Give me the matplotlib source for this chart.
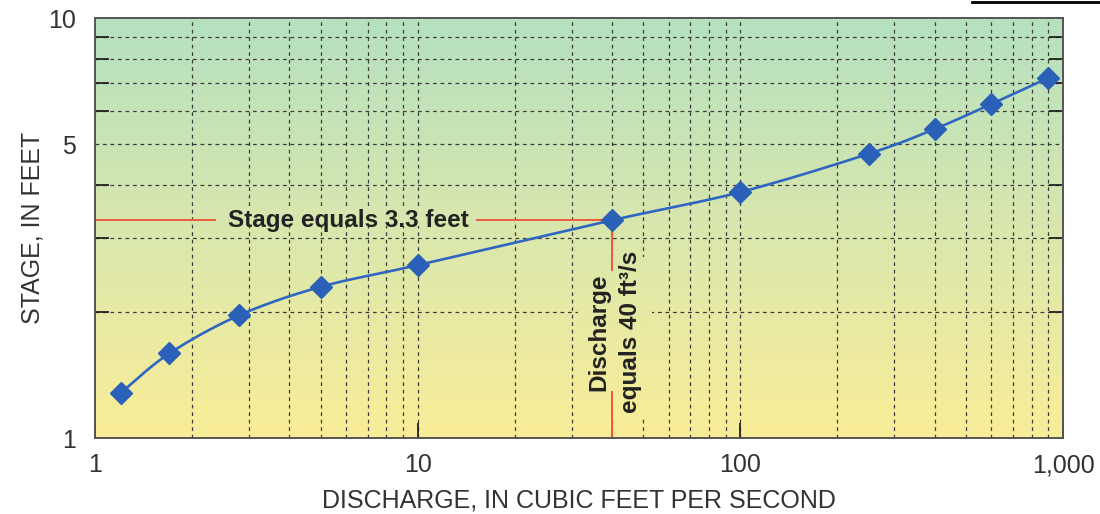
import numpy as np
import matplotlib
matplotlib.use("Agg")
import matplotlib.pyplot as plt
from matplotlib.colors import LinearSegmentedColormap
from matplotlib.ticker import FixedLocator, FixedFormatter, NullFormatter
from matplotlib.lines import Line2D

plt.rcParams['font.family'] = ['Liberation Sans', 'DejaVu Sans']

# Stage-discharge rating data
discharge = [1.2, 1.7, 2.8, 5.0, 10.0, 40.0, 100.0, 250.0, 400.0, 600.0, 900.0]
stage = [1.28, 1.59, 1.96, 2.29, 2.58, 3.3, 3.85, 4.75, 5.44, 6.24, 7.2]

x_ticks = [1, 10, 100, 1000]
x_tick_labels = ['1', '10', '100', '1,000']
y_ticks = [1, 5, 10]
y_tick_labels = ['1', '5', '10']

read_q = 40.0
read_stage = 3.3

fig = plt.figure(figsize=(11, 5.14), dpi=100)
ax = fig.add_axes([95 / 1100, 1 - 438 / 514, 968 / 1100, 420 / 514])
ax.set_xscale('log')
ax.set_yscale('log')
ax.set_xlim(1, 1000)
ax.set_ylim(1, 10)

# Background gradient: green at the top fading to yellow at the bottom
bg = LinearSegmentedColormap.from_list(
    'bg', [(0.0, '#faed98'), (0.5, '#d9e7ad'), (1.0, '#b5e1c0')])


def gradient_patch(x0, x1, y0, y1, z):
    """Fill an axes-fraction box with the matching slice of the background."""
    g = np.linspace(y0, y1, 128).reshape(-1, 1)
    ax.imshow(g, cmap=bg, vmin=0, vmax=1, aspect='auto', origin='lower',
              extent=[x0, x1, y0, y1], transform=ax.transAxes, zorder=z,
              interpolation='bilinear')


gradient_patch(0, 1, 0, 1, 0)

# Grid on every decade subdivision
minor_x = [m * d for d in (1, 10, 100) for m in range(2, 10)]
minor_y = list(range(2, 10))
grid_kw = dict(color='#3c3c3c', lw=0.9, ls=(0, (3, 3)), zorder=1)
for v in minor_x + [10, 100]:
    ax.axvline(v, **grid_kw)
for v in minor_y:
    ax.axhline(v, **grid_kw)

# Smooth rating curve (Catmull-Rom in log-log space)
lx = np.log10(discharge)
ly = np.log10(stage)
px = np.concatenate([[2 * lx[0] - lx[1]], lx, [2 * lx[-1] - lx[-2]]])
py = np.concatenate([[2 * ly[0] - ly[1]], ly, [2 * ly[-1] - ly[-2]]])
cx, cy = [], []
t = np.linspace(0, 1, 30)
for i in range(1, len(px) - 2):
    for arr, out in ((px, cx), (py, cy)):
        p0, p1, p2, p3 = arr[i - 1], arr[i], arr[i + 1], arr[i + 2]
        seg = 0.5 * ((2 * p1) + (-p0 + p2) * t
                     + (2 * p0 - 5 * p1 + 4 * p2 - p3) * t ** 2
                     + (-p0 + 3 * p1 - 3 * p2 + p3) * t ** 3)
        out.extend(seg)
ax.plot(10 ** np.array(cx), 10 ** np.array(cy), color='#2f66c2', lw=1.9, zorder=4)
ax.plot(discharge, stage, ls='none', marker='D', ms=11, color='#2a60b8',
        mec='#2a60b8', zorder=5)

# Reading the curve: red guide lines
red = '#ec5a3c'
ax.plot([1, 2.35], [read_stage, read_stage], color=red, lw=1.4, zorder=3)
ax.plot([15.3, read_q], [read_stage, read_stage], color=red, lw=1.4, zorder=3)
ax.plot([read_q, read_q], [read_stage, 2.51], color=red, lw=1.4, zorder=3)
ax.plot([read_q, read_q], [1.287, 1], color=red, lw=1.4, zorder=3)

# Background-coloured blocks behind the annotation text
gradient_patch(222 / 968 - 0.1, 472 / 968 - 0.1, 0.505, 0.545, 2)
gradient_patch(483 / 968, 557 / 968, 0.05, 0.43, 2)

ax.text(6.1, read_stage, 'Stage equals 3.3 feet', fontsize=17.5,
        fontweight='bold', color='#222222', ha='center', va='center', zorder=6)
ax.text(40.8, 1.79, 'Discharge\nequals 40 ft³/s', fontsize=17.5,
        fontweight='bold', color='#222222', rotation=90, ha='center',
        va='center', multialignment='center', linespacing=1.45, zorder=6)

# Axes styling
for s in ax.spines.values():
    s.set_color('#555555')
    s.set_linewidth(1.4)
    s.set_zorder(7)

ax.xaxis.set_major_locator(FixedLocator(x_ticks))
ax.xaxis.set_major_formatter(FixedFormatter(x_tick_labels))
ax.xaxis.set_minor_locator(FixedLocator([]))
ax.yaxis.set_major_locator(FixedLocator(y_ticks))
ax.yaxis.set_major_formatter(FixedFormatter(y_tick_labels))
ax.yaxis.set_minor_locator(FixedLocator(minor_y))
ax.yaxis.set_minor_formatter(NullFormatter())

ax.tick_params(axis='x', which='major', direction='in', length=11, width=1.3,
               color='#222222', labelsize=18, labelcolor='#333333', pad=11)
ax.tick_params(axis='y', which='major', direction='in', length=0, width=1.3,
               labelsize=18, labelcolor='#333333', pad=14)
ax.tick_params(axis='y', which='minor', direction='in', length=10, width=1.3,
               color='#222222', left=True, right=True)

ax.set_xlabel('DISCHARGE, IN CUBIC FEET PER SECOND', fontsize=18,
              color='#333333', labelpad=8)
ax.set_ylabel('STAGE, IN FEET', fontsize=18, color='#333333', labelpad=2)

fig.add_artist(Line2D([972 / 1100, 1.0], [1 - 1.5 / 514, 1 - 1.5 / 514],
                      transform=fig.transFigure, color='black', lw=2))

fig.savefig('out.png', dpi=100)
